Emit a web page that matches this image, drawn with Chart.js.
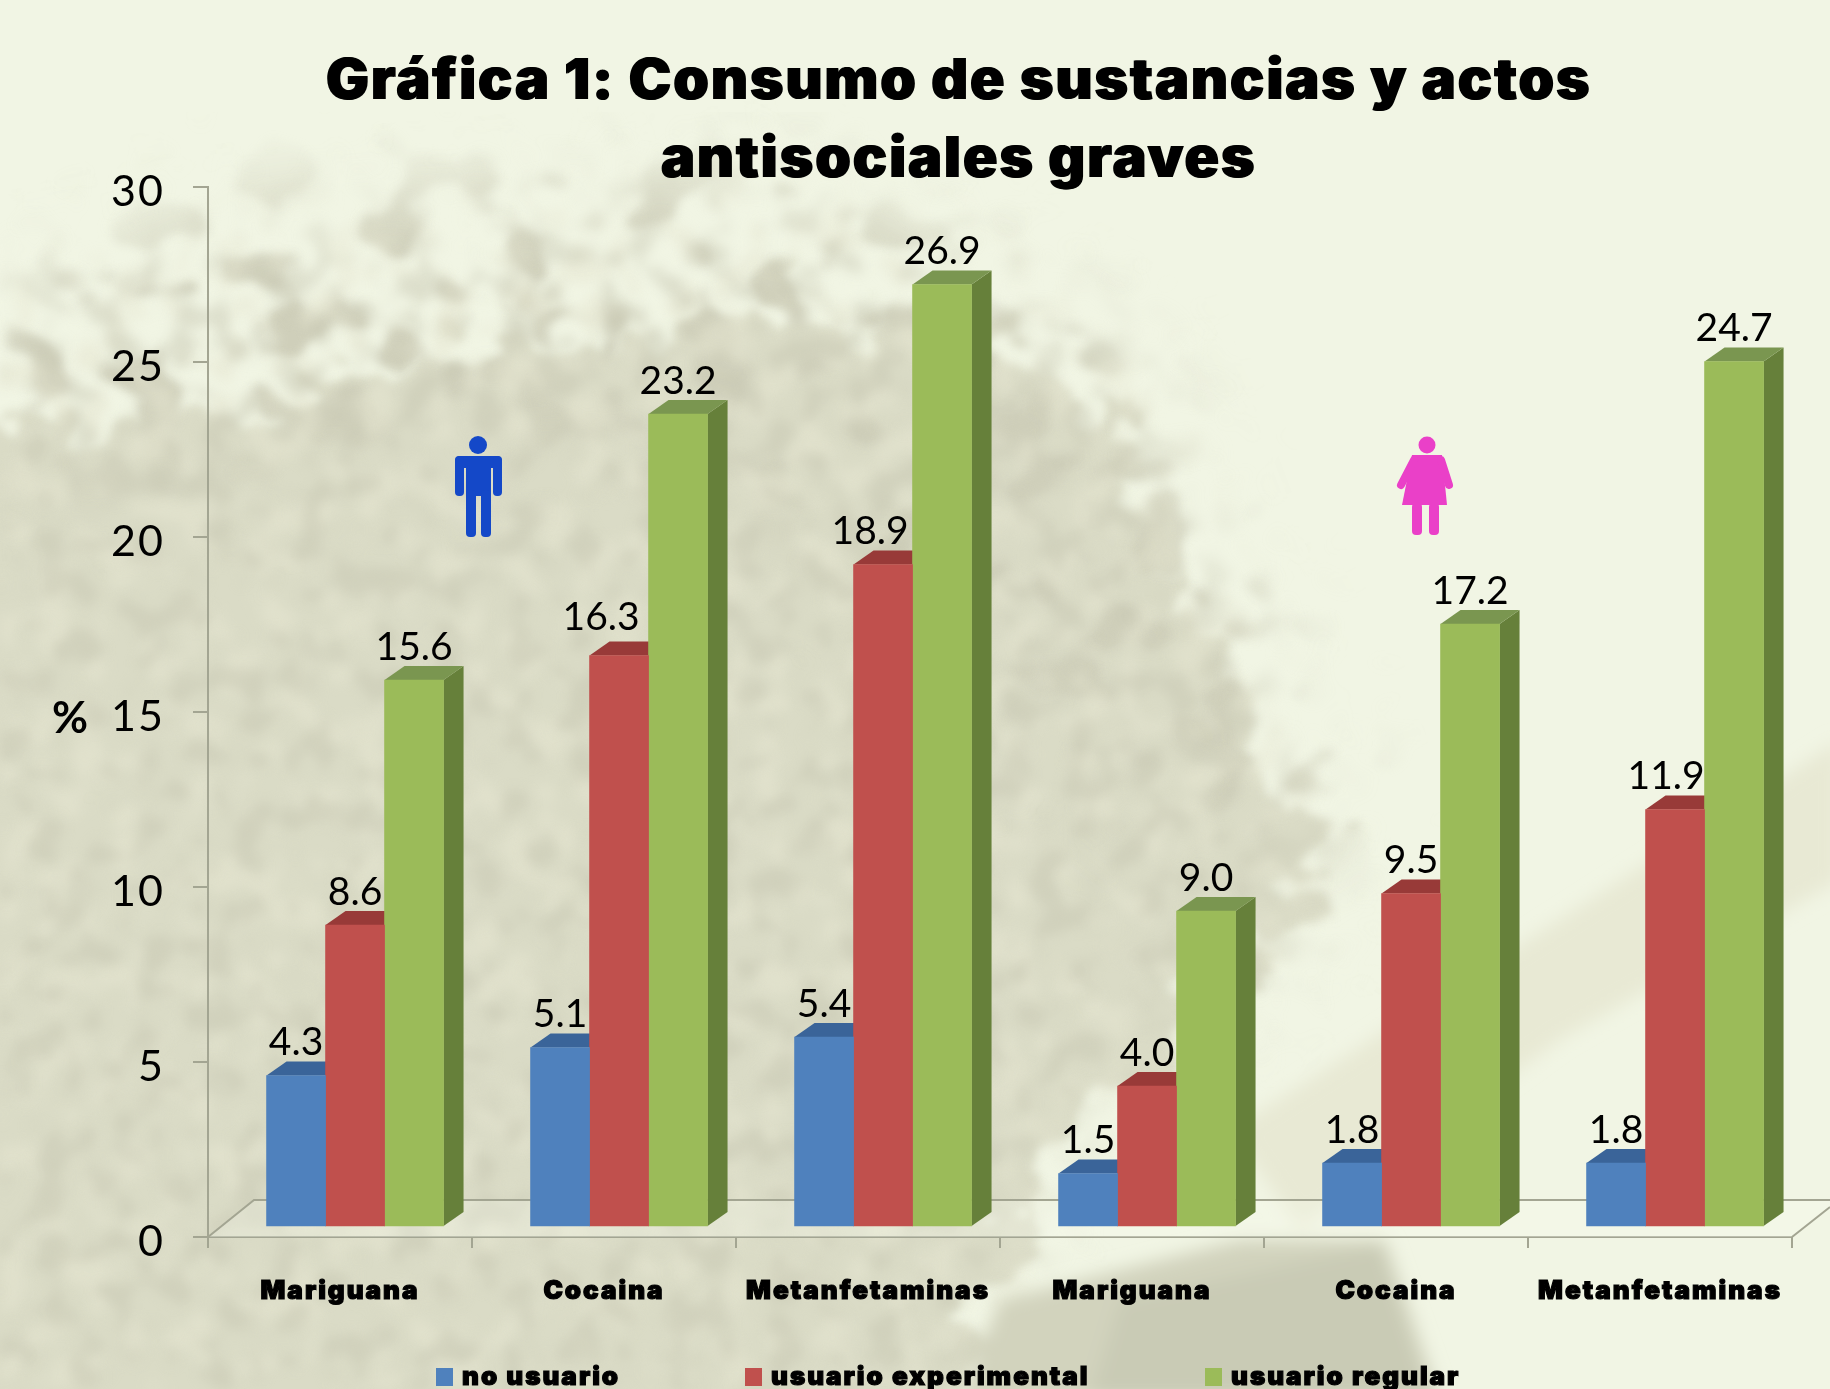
<!DOCTYPE html>
<html lang="es">
<head>
<meta charset="utf-8">
<title>Gráfica 1</title>
<script src="https://cdn.jsdelivr.net/npm/chart.js@4"></script>
<style>
  html, body { margin: 0; padding: 0; }
  body { width: 1830px; height: 1389px; overflow: hidden; position: relative; background: #f1f5e4; }
  #fondo { position: absolute; left: 0; top: 0; }
  #wrap { position: absolute; left: 0; top: 0; width: 1830px; height: 1389px; filter: blur(0.6px); }
</style>
</head>
<body>
<!-- fondo: mapa difuminado -->
<svg id="fondo" width="1830" height="1389" xmlns="http://www.w3.org/2000/svg">
  <defs>
    <filter id="borde" x="-10%" y="-10%" width="120%" height="120%" color-interpolation-filters="sRGB">
      <feTurbulence type="fractalNoise" baseFrequency="0.017 0.021" numOctaves="3" seed="11" result="n"/>
      <feDisplacementMap in="SourceGraphic" in2="n" scale="170" xChannelSelector="R" yChannelSelector="G"/>
      <feGaussianBlur stdDeviation="5"/>
    </filter>
    <filter id="manchas" x="0" y="0" width="100%" height="100%" color-interpolation-filters="sRGB">
      <feTurbulence type="fractalNoise" baseFrequency="0.016 0.02" numOctaves="2" seed="4"/>
      <feColorMatrix type="matrix" values="0 0 0 0 0.81  0 0 0 0 0.81  0 0 0 0 0.73  10 0 0 0 -5.5"/>
      <feGaussianBlur stdDeviation="4"/>
    </filter>
    <filter id="claros" x="0" y="0" width="100%" height="100%" color-interpolation-filters="sRGB">
      <feTurbulence type="fractalNoise" baseFrequency="0.028" numOctaves="2" seed="21"/>
      <feColorMatrix type="matrix" values="0 0 0 0 0.90  0 0 0 0 0.90  0 0 0 0 0.82  0 7 0 0 -3.5"/>
      <feGaussianBlur stdDeviation="6"/>
    </filter>
    <filter id="oscuros" x="0" y="0" width="100%" height="100%" color-interpolation-filters="sRGB">
      <feTurbulence type="fractalNoise" baseFrequency="0.03" numOctaves="2" seed="33"/>
      <feColorMatrix type="matrix" values="0 0 0 0 0.78  0 0 0 0 0.78  0 0 0 0 0.70  0 0 7 0 -3.6"/>
      <feGaussianBlur stdDeviation="6"/>
    </filter>
    <filter id="suave"><feGaussianBlur stdDeviation="45"/></filter>
    <filter id="suave2"><feGaussianBlur stdDeviation="9"/></filter>
    <mask id="zona">
      <path filter="url(#suave)" d="M-60 300 L300 230 L800 190 L1130 350 L1300 800 L1300 950 L1050 1130 L950 1500 L-60 1500 Z" fill="#fff"/>
    </mask>
    <mask id="banda">
      <path filter="url(#suave)" d="M-60 330 L260 200 L800 180 L1120 350 L1360 830 L1200 860 L700 450 L-60 480 Z" fill="#fff"/>
    </mask>
  </defs>
  <rect width="1830" height="1389" fill="#f1f5e4"/>
  <path filter="url(#borde)" fill="#dadbc6"
        d="M-150 430 L180 420 L380 360 L640 340 L760 300 L1000 330 L1120 430 L1170 570 L1250 720 L1330 880 L1260 960 L1060 1130 L1000 1290 L930 1600 L-150 1600 Z"/>
  <rect width="1830" height="1389" filter="url(#manchas)" mask="url(#banda)"/>
  <rect width="1830" height="1389" filter="url(#claros)" mask="url(#zona)" opacity="0.55"/>
  <rect width="1830" height="1389" filter="url(#oscuros)" mask="url(#zona)" opacity="0.5"/>
  <g filter="url(#suave2)">
    <path d="M1230 1130 L1840 740 L1840 880 L1560 1040 L1300 1230 Z" fill="#e8e9d4"/>
    <path d="M1000 1300 L1240 1240 L1385 1240 L1440 1400 L960 1400 Z" fill="#d2d3bd"/>
    <path d="M1120 1300 L1380 1245 L1430 1400 L1090 1400 Z" fill="#c9cbb5"/>
  </g>
</svg>
<div id="wrap"><canvas id="grafica" width="1830" height="1389"></canvas></div>
<script>
// Datos
const sustancias = ['Mariguana', 'Cocaina', 'Metanfetaminas', 'Mariguana', 'Cocaina', 'Metanfetaminas'];
const noUsuario = [4.3, 5.1, 5.4, 1.5, 1.8, 1.8];
const experimental = [8.6, 16.3, 18.9, 4.0, 9.5, 11.9];
const regular = [15.6, 23.2, 26.9, 9.0, 17.2, 24.7];
const nombresSeries = ['no usuario', 'usuario experimental', 'usuario regular'];
const ticksY = [0, 5, 10, 15, 20, 25, 30];
const titulo = ['Gráfica 1: Consumo de sustancias y actos', 'antisociales graves'];

const AZUL = '#4f81bd', ROJO = '#c0504d', VERDE = '#9bbb59';
const caras = [
  { techo: '#3a6499', lado: '#3a6090' },
  { techo: '#983a38', lado: '#8f3533' },
  { techo: '#7a9650', lado: '#66803a' },
];
const GRIS = '#a3a592';
const FONDO_X = 20, FONDO_Y = 14;   // profundidad de las barras
const ESPACIADO = '2px';            // la letra del original es más ancha que Inter
// etiquetas que en el original no van centradas: serie-categoría
const desvioEtiqueta = { '1-1': [-18, -5], '1-2': [-13, 0], '1-5': [-9, 0] };

const conX = vals => vals.map((v, i) => ({ x: i, y: v }));

// cara superior y lateral, antes de las barras
const barras3d = {
  id: 'barras3d',
  beforeDraw(chart) {
    chart.ctx.letterSpacing = ESPACIADO;
  },
  beforeDatasetsDraw(chart) {
    const ctx = chart.ctx, a = chart.chartArea;
    ctx.letterSpacing = '0px';
    // piso
    ctx.save();
    ctx.fillStyle = 'rgba(250,252,238,0.3)';
    ctx.beginPath();
    ctx.moveTo(a.left, a.bottom); ctx.lineTo(a.left + 46, a.bottom - 37); ctx.lineTo(1830, a.bottom - 37);
    ctx.lineTo(a.right + 38, a.bottom - 30); ctx.lineTo(a.right, a.bottom);
    ctx.fill();
    ctx.strokeStyle = GRIS; ctx.lineWidth = 2;
    ctx.beginPath();
    ctx.moveTo(a.left, a.bottom); ctx.lineTo(a.left + 46, a.bottom - 37); ctx.lineTo(1830, a.bottom - 37);
    ctx.moveTo(a.right, a.bottom); ctx.lineTo(a.right + 38, a.bottom - 30);
    ctx.stroke();
    chart.data.datasets.forEach((ds, d) => {
      chart.getDatasetMeta(d).data.forEach(b => {
        const izq = b.x - b.width / 2, der = b.x + b.width / 2;
        ctx.fillStyle = caras[d].lado;
        ctx.beginPath();
        ctx.moveTo(der, b.y); ctx.lineTo(der + FONDO_X, b.y - FONDO_Y);
        ctx.lineTo(der + FONDO_X, b.base - FONDO_Y); ctx.lineTo(der, b.base);
        ctx.fill();
        ctx.fillStyle = caras[d].techo;
        ctx.beginPath();
        ctx.moveTo(izq, b.y); ctx.lineTo(izq + FONDO_X, b.y - FONDO_Y);
        ctx.lineTo(der + FONDO_X, b.y - FONDO_Y); ctx.lineTo(der, b.y);
        ctx.fill();
      });
    });
    ctx.restore();
  },
  afterDatasetsDraw(chart) {
    const ctx = chart.ctx;
    ctx.save();
    ctx.fillStyle = '#000';
    ctx.font = '39px Lato';
    ctx.textAlign = 'center'; ctx.textBaseline = 'middle';
    chart.data.datasets.forEach((ds, d) => {
      chart.getDatasetMeta(d).data.forEach((b, i) => {
        const [dx, dy] = desvioEtiqueta[d + '-' + i] || [0, 0];
        ctx.fillText(ds.data[i].y.toFixed(1), b.x + dx, b.y - 33 + dy);
      });
    });
    ctx.restore();
  }
};

// leyenda (el espacio entre entradas no cabe en la de Chart.js) y el % derecho
const leyenda = {
  id: 'leyenda',
  afterDraw(chart) {
    const ctx = chart.ctx, xs = [436, 745, 1205], y = 1377;
    ctx.save();
    ctx.font = '900 26px Inter';
    ctx.letterSpacing = ESPACIADO;
    ctx.textBaseline = 'middle';
    ctx.strokeStyle = '#000'; ctx.lineWidth = 1.2;
    nombresSeries.forEach((n, i) => {
      ctx.fillStyle = chart.data.datasets[i].backgroundColor;
      ctx.fillRect(xs[i], y - 9, 17, 18);
      ctx.fillStyle = '#000';
      ctx.fillText(n, xs[i] + 26, y);
      ctx.strokeText(n, xs[i] + 26, y);
    });
    ctx.letterSpacing = '0px';
    ctx.font = 'bold 44px Lato';
    ctx.textAlign = 'center';
    ctx.fillText('%', 70, 719);
    ctx.restore();
  }
};

// figuras de hombre y mujer
const figuras = {
  id: 'figuras',
  afterDraw(chart) {
    const ctx = chart.ctx;
    const rr = (x, y, w, h, r) => { ctx.beginPath(); ctx.roundRect(x, y, w, h, r); ctx.fill(); };
    ctx.save();
    ctx.fillStyle = '#1448c8';
    ctx.beginPath(); ctx.arc(478, 445, 9, 0, Math.PI * 2); ctx.fill();
    rr(455, 456, 47, 12, 5);
    rr(455, 456, 9, 40, 4);
    rr(493, 456, 9, 40, 4);
    rr(466, 456, 25, 40, 2);
    rr(466, 490, 10, 47, 4);
    rr(481, 490, 10, 47, 4);
    ctx.fillStyle = '#ea40c8';
    ctx.beginPath(); ctx.arc(1427, 445, 8.5, 0, Math.PI * 2); ctx.fill();
    ctx.beginPath();
    ctx.moveTo(1412, 455); ctx.lineTo(1442, 455);
    ctx.lineTo(1447, 505); ctx.lineTo(1402, 505);
    ctx.closePath(); ctx.fill();
    ctx.lineCap = 'round'; ctx.lineWidth = 8; ctx.strokeStyle = '#ea40c8';
    ctx.beginPath();
    ctx.moveTo(1414, 460); ctx.lineTo(1401, 485);
    ctx.moveTo(1441, 460); ctx.lineTo(1449, 485);
    ctx.stroke();
    rr(1412, 503, 10, 32, 4);
    rr(1429, 503, 10, 32, 4);
    ctx.restore();
  }
};

// título: se centra como en la original y no sobre el lienzo; sombra para engrosarlo
const colocarTitulo = {
  id: 'colocarTitulo',
  afterLayout(chart) {
    const t = chart.titleBlock;
    t.left = 86; t.right = 1830; t.top = 12;
    if (!t.conSombra) {
      const dibuja = t.draw;
      t.draw = function () {
        chart.ctx.save();
        chart.ctx.shadowColor = '#000';
        chart.ctx.shadowOffsetX = 1.5;
        dibuja.call(this);
        chart.ctx.restore();
      };
      t.conSombra = true;
    }
  }
};

new Chart(document.getElementById('grafica'), {
  type: 'bar',
  plugins: [barras3d, leyenda, figuras, colocarTitulo],
  data: {
    labels: sustancias,
    datasets: [
      { label: nombresSeries[0], data: conX(noUsuario), backgroundColor: AZUL, xAxisID: 'xBarras', yAxisID: 'yBarras' },
      { label: nombresSeries[1], data: conX(experimental), backgroundColor: ROJO, xAxisID: 'xBarras', yAxisID: 'yBarras' },
      { label: nombresSeries[2], data: conX(regular), backgroundColor: VERDE, xAxisID: 'xBarras', yAxisID: 'yBarras' },
    ]
  },
  options: {
    responsive: false,
    animation: false,
    barThickness: 59,
    layout: { padding: { right: 38 } },
    plugins: {
      legend: { display: false },
      tooltip: { enabled: false },
      title: {
        display: true,
        text: titulo,
        color: '#000',
        padding: { top: 31, bottom: 0 },
        font: { family: 'Inter', size: 57, weight: '900', lineHeight: '78px' }
      }
    },
    scales: {
      // ejes visibles
      x: {
        type: 'category',
        afterFit(s) { s.height = 152; },
        border: { color: GRIS, width: 2 },
        grid: { drawOnChartArea: false, color: GRIS, lineWidth: 2, tickLength: 11 },
        ticks: { color: '#000', padding: 28, maxRotation: 0, autoSkip: false, textStrokeColor: '#000', textStrokeWidth: 1.2, font: { family: 'Inter', size: 26, weight: '900' } }
      },
      y: {
        min: 0, max: 30,
        afterFit(s) { s.width = 208; },
        afterBuildTicks(s) { s.ticks = ticksY.map(v => ({ value: v })); },
        border: { color: GRIS, width: 2 },
        grid: { drawOnChartArea: false, color: GRIS, lineWidth: 2, tickLength: 15 },
        // la línea vacía baja un poco el número respecto a la marca
        ticks: { color: '#000', padding: 28, callback: v => ['', String(v)], font: { family: 'Lato', size: 43, lineHeight: '10px' } }
      },
      // ejes de las barras: van desplazados respecto al piso
      xBarras: { type: 'linear', display: false, offset: false, min: -0.557, max: 5.443, grid: { offset: false } },
      yBarras: { display: false, min: -0.314, max: 29.686 }
    }
  }
});
</script>
</body>
</html>
